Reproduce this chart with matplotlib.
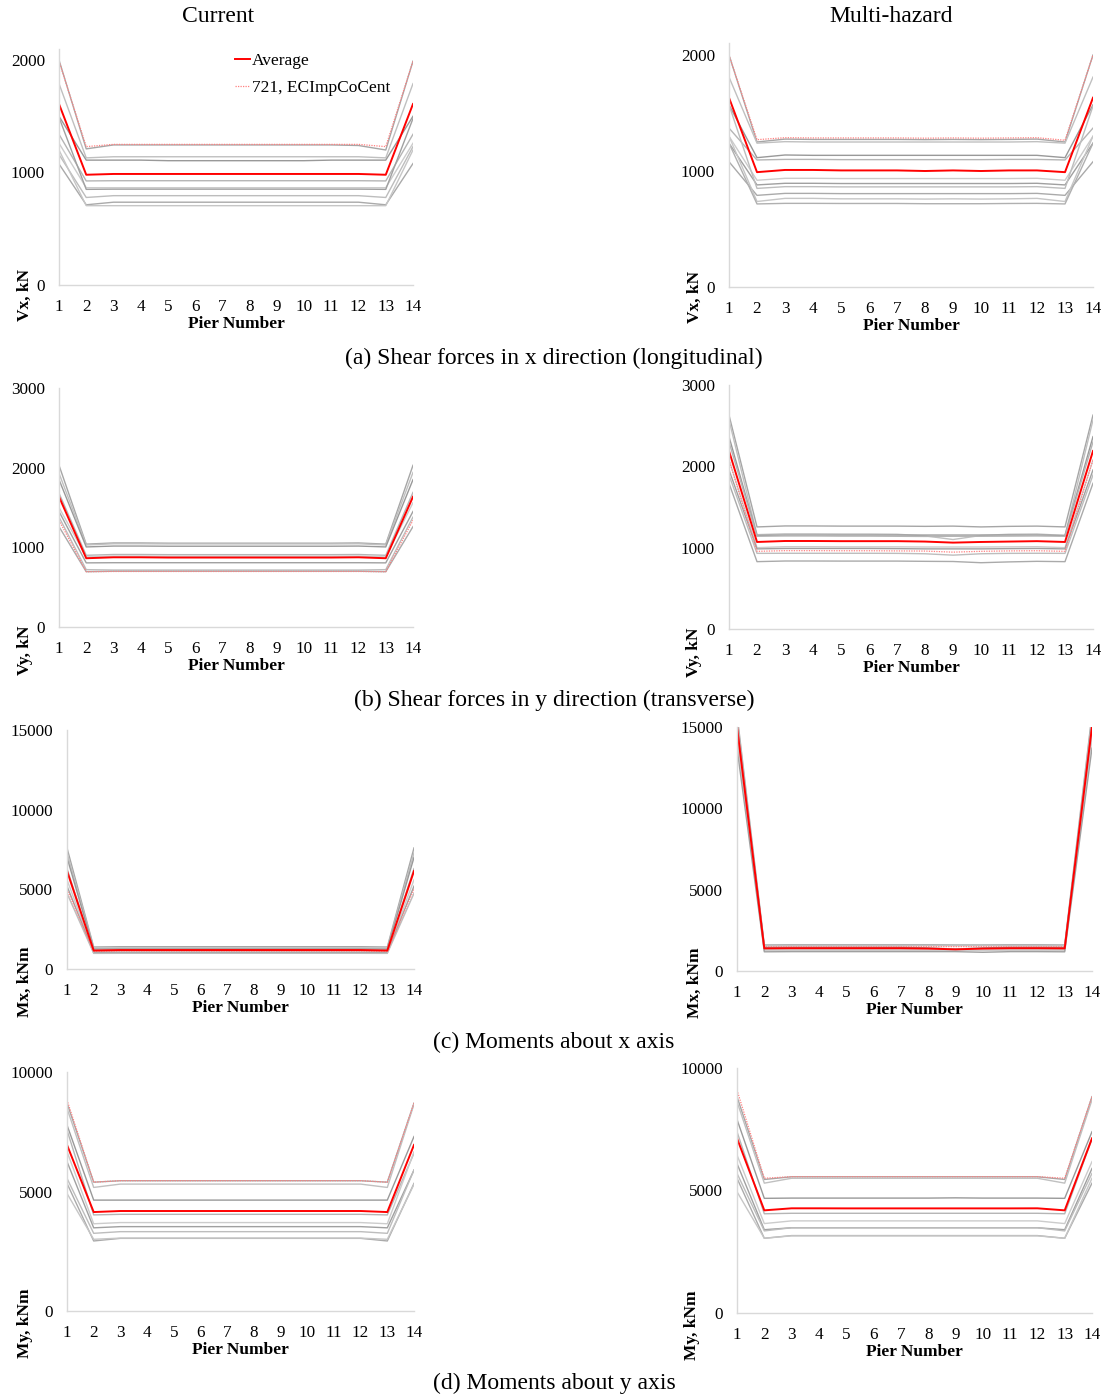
import matplotlib
matplotlib.use("Agg")
import matplotlib.pyplot as plt
import numpy as np

plt.rcParams["font.family"] = ["Liberation Serif", "DejaVu Serif"]

piers = list(range(1, 15))

# (a) Vx, current
vx_cur_avg = [1609, 980, 987, 987, 987, 987, 987, 987, 987, 987, 987, 987, 980, 1609]
vx_cur_721 = [1990, 1230, 1250, 1250, 1250, 1250, 1250, 1250, 1250, 1250, 1250, 1250, 1230, 1990]
vx_cur_runs = [
    [2000, 1210, 1245, 1245, 1245, 1245, 1245, 1245, 1245, 1245, 1245, 1240, 1200, 1990],
    [1790, 1130, 1140, 1140, 1140, 1140, 1140, 1140, 1140, 1140, 1140, 1140, 1130, 1790],
    [1500, 1110, 1110, 1110, 1105, 1105, 1105, 1105, 1105, 1105, 1110, 1110, 1110, 1500],
    [1340, 925, 927, 927, 927, 927, 927, 927, 927, 927, 927, 927, 925, 1340],
    [1260, 865, 865, 865, 865, 865, 865, 865, 865, 865, 865, 865, 865, 1260],
    [1490, 850, 852, 852, 852, 852, 852, 852, 852, 852, 852, 852, 850, 1480],
    [1160, 778, 794, 794, 794, 794, 794, 794, 794, 794, 794, 794, 778, 1230],
    [1076, 713, 736, 736, 736, 736, 736, 736, 736, 736, 736, 736, 713, 1080],
    [1200, 705, 705, 705, 705, 705, 705, 705, 705, 705, 705, 705, 705, 1200],
]

# (a) Vx, multi-hazard
vx_mh_avg = [1632, 990, 1009, 1009, 1005, 1005, 1005, 1000, 1005, 1000, 1005, 1005, 990, 1632]
vx_mh_721 = [2000, 1270, 1287, 1285, 1285, 1285, 1285, 1283, 1285, 1283, 1285, 1287, 1265, 2000]
vx_mh_runs = [
    [2000, 1250, 1275, 1272, 1272, 1272, 1272, 1270, 1272, 1270, 1272, 1275, 1250, 2000],
    [1810, 1240, 1253, 1250, 1250, 1250, 1250, 1250, 1250, 1250, 1250, 1253, 1240, 1810],
    [1570, 1115, 1138, 1135, 1135, 1135, 1135, 1135, 1135, 1135, 1135, 1135, 1115, 1570],
    [1370, 1095, 1100, 1100, 1098, 1098, 1098, 1098, 1098, 1098, 1100, 1100, 1095, 1370],
    [1300, 920, 937, 937, 935, 935, 935, 935, 935, 935, 935, 937, 920, 1300],
    [1240, 880, 894, 894, 892, 892, 892, 892, 892, 892, 892, 894, 880, 1240],
    [1570, 850, 865, 865, 863, 863, 863, 863, 863, 863, 863, 865, 850, 1560],
    [1080, 790, 807, 807, 805, 805, 805, 805, 805, 805, 805, 807, 790, 1080],
    [1300, 737, 764, 764, 760, 760, 760, 758, 760, 758, 760, 764, 737, 1300],
    [1240, 716, 721, 721, 720, 720, 720, 718, 718, 718, 720, 721, 716, 1240],
]

# (b) Vy, current
vy_cur_avg = [1635, 863, 875, 875, 872, 872, 872, 872, 872, 872, 872, 875, 863, 1635]
vy_cur_721 = [1340, 694, 697, 697, 697, 697, 697, 697, 697, 697, 697, 697, 694, 1340]
vy_cur_runs = [
    [2030, 1040, 1055, 1055, 1052, 1052, 1052, 1052, 1052, 1052, 1052, 1055, 1040, 2030],
    [1930, 1030, 1045, 1045, 1043, 1043, 1043, 1043, 1043, 1043, 1043, 1045, 1030, 1940],
    [1850, 1005, 1016, 1016, 1014, 1014, 1014, 1014, 1014, 1014, 1014, 1016, 1005, 1850],
    [1680, 900, 910, 910, 908, 908, 908, 908, 908, 908, 908, 910, 900, 1690],
    [1500, 880, 890, 890, 888, 888, 888, 888, 888, 888, 888, 890, 880, 1560],
    [1450, 805, 807, 807, 807, 807, 807, 807, 807, 807, 807, 807, 805, 1450],
    [1380, 720, 715, 715, 715, 715, 715, 715, 715, 715, 715, 715, 720, 1380],
    [1260, 694, 700, 700, 700, 700, 700, 700, 700, 700, 700, 700, 694, 1260],
]

# (b) Vy, multi-hazard
vy_mh_avg = [2189, 1070, 1082, 1082, 1080, 1080, 1080, 1075, 1062, 1070, 1075, 1080, 1070, 2189]
vy_mh_721 = [2080, 955, 963, 963, 962, 962, 960, 958, 945, 955, 960, 962, 955, 2080]
vy_mh_runs = [
    [2630, 1255, 1267, 1267, 1265, 1265, 1265, 1262, 1265, 1255, 1262, 1265, 1255, 2630],
    [2570, 1160, 1170, 1170, 1168, 1168, 1165, 1145, 1100, 1150, 1165, 1168, 1150, 2570],
    [2365, 1150, 1155, 1155, 1155, 1155, 1155, 1155, 1155, 1155, 1155, 1155, 1150, 2365],
    [2300, 1140, 1144, 1144, 1142, 1142, 1140, 1138, 1140, 1140, 1142, 1144, 1140, 2300],
    [2080, 1000, 1012, 1012, 1010, 1010, 1010, 1008, 1008, 1008, 1010, 1012, 1000, 2080],
    [1956, 985, 990, 990, 990, 990, 988, 985, 985, 985, 988, 990, 985, 1956],
    [1894, 930, 931, 931, 931, 931, 930, 925, 908, 925, 930, 931, 930, 1894],
    [1792, 828, 836, 836, 835, 835, 835, 832, 830, 815, 825, 832, 828, 1792],
]

# (c) Mx, current
mx_cur_avg = [6150, 1160, 1190, 1190, 1190, 1190, 1190, 1190, 1190, 1190, 1190, 1190, 1160, 6150]
mx_cur_721 = [5000, 1100, 1120, 1120, 1120, 1120, 1120, 1120, 1120, 1120, 1120, 1120, 1100, 5000]
mx_cur_runs = [
    [7600, 1380, 1400, 1400, 1400, 1400, 1400, 1400, 1400, 1400, 1400, 1400, 1380, 7600],
    [7300, 1320, 1330, 1330, 1330, 1330, 1330, 1330, 1330, 1330, 1330, 1330, 1320, 7300],
    [7000, 1250, 1260, 1260, 1260, 1260, 1260, 1260, 1260, 1260, 1260, 1260, 1250, 7000],
    [6300, 1150, 1160, 1160, 1160, 1160, 1160, 1160, 1160, 1160, 1160, 1160, 1150, 6300],
    [5600, 1080, 1090, 1090, 1090, 1090, 1090, 1090, 1090, 1090, 1090, 1090, 1080, 5600],
    [5200, 1020, 1030, 1030, 1030, 1030, 1030, 1030, 1030, 1030, 1030, 1030, 1020, 5200],
    [4750, 980, 985, 985, 985, 985, 985, 985, 985, 985, 985, 985, 980, 4750],
]

# (c) Mx, multi-hazard
mx_mh_avg = [15000, 1390, 1400, 1400, 1400, 1400, 1400, 1380, 1330, 1380, 1400, 1400, 1390, 15000]
mx_mh_721 = [15300, 1500, 1500, 1500, 1500, 1500, 1500, 1500, 1500, 1500, 1500, 1500, 1500, 15300]
mx_mh_runs = [
    [15800, 1600, 1610, 1610, 1610, 1610, 1610, 1610, 1600, 1600, 1610, 1610, 1600, 15800],
    [15500, 1550, 1560, 1560, 1560, 1560, 1560, 1560, 1560, 1560, 1560, 1560, 1550, 15500],
    [15200, 1450, 1460, 1460, 1460, 1460, 1460, 1420, 1350, 1420, 1460, 1460, 1450, 15200],
    [14800, 1350, 1360, 1360, 1360, 1360, 1360, 1360, 1360, 1360, 1360, 1360, 1350, 14800],
    [14300, 1250, 1260, 1260, 1260, 1260, 1260, 1260, 1260, 1260, 1260, 1260, 1250, 14300],
    [13700, 1180, 1190, 1190, 1190, 1190, 1190, 1190, 1190, 1150, 1190, 1190, 1180, 13700],
]

# (d) My, current
my_cur_avg = [6950, 4140, 4184, 4184, 4184, 4184, 4184, 4184, 4184, 4184, 4184, 4184, 4140, 6950]
my_cur_721 = [8830, 5390, 5454, 5454, 5454, 5454, 5454, 5454, 5454, 5454, 5454, 5454, 5390, 8700]
my_cur_runs = [
    [8700, 5390, 5450, 5450, 5450, 5450, 5450, 5450, 5450, 5450, 5450, 5450, 5390, 8700],
    [8480, 5170, 5310, 5310, 5310, 5310, 5310, 5310, 5310, 5310, 5310, 5310, 5170, 8650],
    [7780, 4640, 4640, 4640, 4640, 4640, 4640, 4640, 4640, 4640, 4640, 4640, 4640, 7300],
    [7570, 4020, 4045, 4045, 4045, 4045, 4045, 4045, 4045, 4045, 4045, 4045, 4020, 6600],
    [6670, 3650, 3700, 3700, 3700, 3700, 3700, 3700, 3700, 3700, 3700, 3700, 3650, 6660],
    [6250, 3480, 3530, 3530, 3530, 3530, 3530, 3530, 3530, 3530, 3530, 3530, 3480, 5900],
    [5550, 3250, 3320, 3320, 3320, 3320, 3320, 3320, 3320, 3320, 3320, 3320, 3250, 5900],
    [5340, 2930, 3040, 3040, 3040, 3040, 3040, 3040, 3040, 3040, 3040, 3040, 2930, 5340],
    [4920, 3000, 3050, 3050, 3050, 3050, 3050, 3050, 3050, 3050, 3050, 3050, 3000, 5300],
]

# (d) My, multi-hazard
my_mh_avg = [7130, 4190, 4273, 4273, 4270, 4270, 4270, 4270, 4270, 4270, 4270, 4273, 4190, 7130]
my_mh_721 = [9100, 5500, 5565, 5565, 5565, 5565, 5565, 5565, 5565, 5565, 5565, 5565, 5500, 8830]
my_mh_runs = [
    [8830, 5450, 5560, 5560, 5560, 5560, 5560, 5560, 5560, 5560, 5560, 5560, 5450, 8830],
    [8630, 5300, 5500, 5500, 5500, 5500, 5500, 5500, 5500, 5500, 5500, 5500, 5300, 8700],
    [7900, 4680, 4690, 4690, 4690, 4690, 4690, 4690, 4700, 4690, 4690, 4690, 4680, 7400],
    [7400, 4050, 4070, 4070, 4070, 4070, 4070, 4070, 4070, 4070, 4070, 4070, 4050, 7100],
    [6450, 3650, 3760, 3760, 3760, 3760, 3760, 3760, 3760, 3760, 3760, 3760, 3650, 6180],
    [6100, 3400, 3480, 3480, 3480, 3480, 3480, 3480, 3480, 3480, 3480, 3480, 3400, 5900],
    [5700, 3350, 3480, 3480, 3480, 3480, 3480, 3480, 3480, 3480, 3480, 3480, 3350, 5700],
    [5500, 3050, 3160, 3160, 3160, 3160, 3160, 3160, 3160, 3160, 3160, 3160, 3050, 5300],
    [4950, 3050, 3150, 3150, 3150, 3150, 3150, 3150, 3150, 3150, 3150, 3150, 3050, 5500],
]

grays = ["#a6a6a6", "#c0c0c0", "#999999", "#b5b5b5", "#cccccc", "#a0a0a0", "#bdbdbd", "#aaaaaa", "#c6c6c6", "#b0b0b0"]

W, H = 1105, 1398
fig = plt.figure(figsize=(W / 100, H / 100), dpi=100)


def px_axes(left, right, bottom, top):
    # pixel box -> figure fraction
    return fig.add_axes([left / W, 1 - bottom / H, (right - left) / W, (bottom - top) / H])


def draw_panel(box, runs, avg, run721, ymax, yticks, ylab, ylab_xy, legend=False):
    left, right, bottom, top = box
    ax = px_axes(left, right, bottom, top)
    for i, r in enumerate(runs):
        ax.plot(piers, r, color=grays[i % len(grays)], lw=1.0)
    ax.plot(piers, run721, color="#ff8080", lw=0.9, ls=(0, (1, 1)), label="721, ECImpCoCent")
    ax.plot(piers, avg, color="#ff0000", lw=1.4, label="Average")
    ax.set_xlim(1, 14)
    ax.set_ylim(0, ymax)
    ax.set_xticks(piers)
    ax.set_yticks(yticks)
    ax.tick_params(length=0, pad=10, labelsize=12.3)
    for s in ["top", "right"]:
        ax.spines[s].set_visible(False)
    for s in ["left", "bottom"]:
        ax.spines[s].set_color("#d9d9d9")
        ax.spines[s].set_linewidth(1.0)
    if legend:
        h, l = ax.get_legend_handles_labels()
        ax.legend(h[::-1], l[::-1], loc="upper left", bbox_to_anchor=(0.452, 1.05),
                  frameon=False, fontsize=12.5, handlelength=0.9, handletextpad=0.1,
                  labelspacing=0.65)
    fig.text((left + right) / 2 / W, 1 - (bottom + 39) / H, "Pier Number",
             ha="center", va="center", fontsize=12.5, fontweight="bold")
    fig.text(ylab_xy[0] / W, 1 - ylab_xy[1] / H, ylab, rotation=90,
             ha="center", va="center", fontsize=12.5, fontweight="bold")
    return ax


draw_panel((59, 413, 285, 48.75), vx_cur_runs, vx_cur_avg, vx_cur_721, 2100,
           [0, 1000, 2000], "Vx, kN", (25, 295), legend=True)
draw_panel((729, 1093, 287, 43.4), vx_mh_runs, vx_mh_avg, vx_mh_721, 2100,
           [0, 1000, 2000], "Vx, kN", (695, 297))
draw_panel((59, 413, 627, 388), vy_cur_runs, vy_cur_avg, vy_cur_721, 3000,
           [0, 1000, 2000, 3000], "Vy, kN", (25, 650))
draw_panel((729, 1093, 629, 385), vy_mh_runs, vy_mh_avg, vy_mh_721, 3000,
           [0, 1000, 2000, 3000], "Vy, kN", (694, 652))
draw_panel((67, 414, 969, 730), mx_cur_runs, mx_cur_avg, mx_cur_721, 15000,
           [0, 5000, 10000, 15000], "Mx, kNm", (25, 982))
draw_panel((737, 1092, 971, 727), mx_mh_runs, mx_mh_avg, mx_mh_721, 15000,
           [0, 5000, 10000, 15000], "Mx, kNm", (695, 983))
draw_panel((67, 414, 1311, 1072), my_cur_runs, my_cur_avg, my_cur_721, 10000,
           [0, 5000, 10000], "My, kNm", (25, 1323))
draw_panel((737, 1092, 1313, 1068), my_mh_runs, my_mh_avg, my_mh_721, 10000,
           [0, 5000, 10000], "My, kNm", (692, 1325))

fig.text(218 / W, 1 - 16 / H, "Current", ha="center", va="center", fontsize=17)
fig.text(891 / W, 1 - 16 / H, "Multi-hazard", ha="center", va="center", fontsize=17)

captions = ["(a) Shear forces in x direction (longitudinal)",
            "(b) Shear forces in y direction (transverse)",
            "(c) Moments about x axis",
            "(d) Moments about y axis"]
caption_y = [358, 700, 1042, 1383]
for c, y in zip(captions, caption_y):
    fig.text(554 / W, 1 - y / H, c, ha="center", va="center", fontsize=17)

fig.savefig("out.png", dpi=100)
